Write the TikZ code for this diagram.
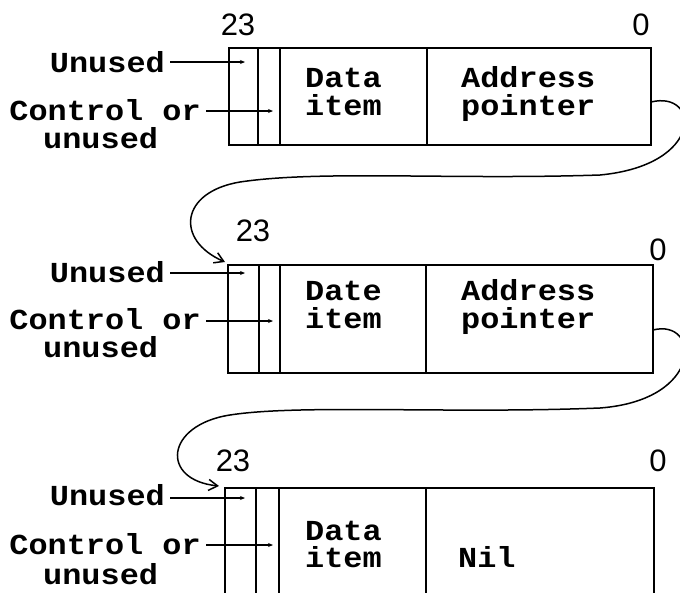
\documentclass[tikz,border=0pt]{standalone}
\usepackage{fontspec}
\setmonofont[FakeStretch=1.1]{Liberation Mono}
\newfontfamily\numfont{Liberation Sans}
\usetikzlibrary{arrows.meta}
\begin{document}
\begin{tikzpicture}[x=1pt,y=-1pt,
  lbl/.style={font=\ttfamily\bfseries\fontsize{29}{29}\selectfont, inner sep=0pt},
  num/.style={font=\numfont\fontsize{31}{31}\selectfont, inner sep=0pt},
  boxline/.style={line width=2.4pt},
  divline/.style={line width=1.8pt},
  ptr/.style={line width=1.6pt, shorten <=5pt, -{Stealth[length=5pt,width=4pt]}},
  link/.style={line width=1.5pt, -{Straight Barb[length=9pt,width=11pt]}}]
\useasboundingbox (0,0) rectangle (680,592);

% ---------- Block 1 ----------
\node[num] (n23a) at (238,25) {23};
\node[num] (n0a) at (641,25) {0};
\draw[boxline] (229,48) rectangle (651,145);
\draw[divline] (258,48) -- (258,145);
\draw[divline] (280,48) -- (280,145);
\draw[divline] (427,48) -- (427,145);
\node[lbl, anchor=base west] (d1) at (305,87) {Data};
\node[lbl, anchor=base west] (i1) at (305,115) {item};
\node[lbl, anchor=base west] (a1) at (461,87) {Address};
\node[lbl, anchor=base west] (p1) at (461,115) {pointer};
\node[lbl, anchor=base east] (u1) at (165,72) {Unused};
\node[lbl, anchor=base east] (c1) at (201,120) {Control or};
\node[lbl, anchor=base west] (v1) at (43,148) {unused};
\coordinate (pu1) at (245,62);
\coordinate (pc1) at (273,111);
\draw[ptr] (u1.east |- pu1) -- (pu1);
\draw[ptr] (c1.east |- pc1) -- (pc1);

% ---------- Block 2 ----------
\node[num] (n23b) at (253,231) {23};
\node[num] (n0b) at (658,250) {0};
\draw[boxline] (228,265) rectangle (653,373);
\draw[divline] (259,265) -- (259,373);
\draw[divline] (280,265) -- (280,373);
\draw[divline] (426,265) -- (426,373);
\node[lbl, anchor=base west] (d2) at (305,300) {Date};
\node[lbl, anchor=base west] (i2) at (305,328) {item};
\node[lbl, anchor=base west] (a2) at (461,300) {Address};
\node[lbl, anchor=base west] (p2) at (461,328) {pointer};
\node[lbl, anchor=base east] (u2) at (165,282) {Unused};
\node[lbl, anchor=base east] (c2) at (201,329) {Control or};
\node[lbl, anchor=base west] (v2) at (43,357) {unused};
\coordinate (pu2) at (245,273);
\coordinate (pc2) at (273,321);
\draw[ptr] (u2.east |- pu2) -- (pu2);
\draw[ptr] (c2.east |- pc2) -- (pc2);

% ---------- Block 3 ----------
\node[num] (n23c) at (233,461) {23};
\node[num] (n0c) at (658,461) {0};
\draw[boxline] (225,600) -- (225,488) -- (654,488) -- (654,600);
\draw[divline] (256,488) -- (256,600);
\draw[divline] (279,488) -- (279,600);
\draw[divline] (426,488) -- (426,600);
\node[lbl, anchor=base west] (d3) at (305,540) {Data};
\node[lbl, anchor=base west] (i3) at (305,567) {item};
\node[lbl, anchor=base west] (nil) at (458,567) {Nil};
\node[lbl, anchor=base east] (u3) at (165,505) {Unused};
\node[lbl, anchor=base east] (c3) at (201,554) {Control or};
\node[lbl, anchor=base west] (v3) at (43,584) {unused};
\coordinate (pu3) at (245,498);
\coordinate (pc3) at (273,545);
\draw[ptr] (u3.east |- pu3) -- (pu3);
\draw[ptr] (c3.east |- pc3) -- (pc3);

% ---------- Links ----------
\coordinate (o1) at (651,102);
\coordinate (t2) at (225,262);
\coordinate (o2) at (653,330);
\coordinate (t3) at (219,486);
\draw[link] (o1) .. controls (700,90) and (705,165) .. (600,175)
  .. controls (450,180) and (320,170) .. (240,182)
  .. controls (180,192) and (175,240) .. (t2);
\draw[link] (o2) .. controls (700,318) and (705,400) .. (600,408)
  .. controls (450,414) and (300,404) .. (230,415)
  .. controls (165,425) and (160,480) .. (t3);
\end{tikzpicture}
\end{document}
